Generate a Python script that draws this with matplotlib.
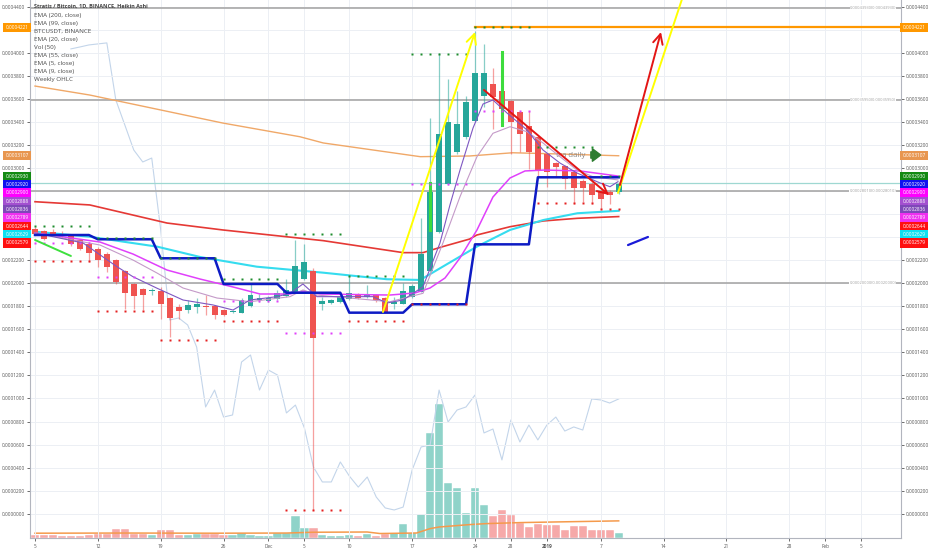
import numpy as np
import matplotlib
matplotlib.use("Agg")
import matplotlib.pyplot as plt
from matplotlib.ticker import FixedLocator, FuncFormatter

plt.rcParams['font.family'] = ['Open Sans', 'DejaVu Sans']

SAT = 1e-8  # values below are in satoshi

# x axis: day 0 = 2018-11-05
DAY_TICKS = [0, 7, 14, 21, 26, 30, 35, 42, 49, 53, 57, 63, 70, 77, 84, 88, 92]
DAY_LABELS = ['5', '12', '19', '26', 'Dec', '5', '10', '17', '24', '28', '2019',
              '7', '14', '21', '28', 'Feb', '5']

# Heikin Ashi candles (satoshi)
HA_OPEN = [24740, 24500, 24440, 24300, 24070, 23720, 23440, 23000, 22570, 21990,
           21070, 19970, 19510, 19330, 19330, 18730, 17950, 17720, 17900, 18070,
           18010, 17660, 17490, 17460, 18010, 18530, 18470, 18620, 18870, 19250,
           20410, 21070, 18160, 18290, 18380, 18640, 18960, 18810, 18960, 18760,
           18160, 18240, 18810, 19250, 21040, 24440, 28630, 31370, 32670, 34110,
           36280, 37290, 36710, 35780, 34890, 33680, 32670, 31230, 30420, 30220,
           29640, 28920, 28630, 28050, 27900, 27900]
HA_HIGH = [24850, 24590, 24680, 24500, 24240, 23810, 23550, 23120, 22680, 22080,
           21130, 20000, 19570, 19630, 19680, 18790, 18240, 18530, 18680, 19020,
           18100, 17750, 17660, 18760, 19910, 19050, 18870, 19390, 20350, 23780,
           23380, 21300, 18810, 18620, 18960, 20690, 19130, 19830, 19050, 18830,
           18810, 20000, 19910, 25710, 34370, 40000, 37750, 36710, 36280, 41910,
           40750, 38730, 37140, 35930, 34980, 34980, 32810, 31340, 30560, 30300,
           29780, 29090, 28750, 28140, 28140, 28830]
HA_LOW = [24160, 23720, 24070, 23900, 23200, 22860, 21840, 21410, 20980, 19970,
          17810, 17810, 17660, 18960, 16940, 15350, 16940, 17380, 17380, 17230,
          16940, 17140, 17400, 17400, 17920, 18380, 18360, 18530, 18790, 19180,
          20260, 350, 17660, 18180, 18270, 18570, 18660, 18750, 18380, 17400,
          17810, 18180, 18750, 19220, 20950, 24330, 28490, 31260, 32550, 34030,
          35260, 33420, 34110, 31230, 31370, 29930, 29200, 28340, 29200, 28200,
          26900, 27040, 26900, 26470, 26900, 27790]
HA_CLOSE = [24300, 23870, 24240, 24070, 23380, 23000, 22620, 22050, 21410, 20110,
            19160, 18870, 19020, 19460, 18180, 17030, 17600, 18100, 18160, 17900,
            17290, 17230, 17580, 18590, 19020, 18680, 18760, 19160, 19460, 21470,
            21840, 15210, 18470, 18530, 18810, 19160, 18760, 19020, 18530, 17520,
            18380, 19310, 19770, 22570, 27910, 32960, 33970, 33830, 35700, 38290,
            38290, 36130, 35130, 33970, 32960, 31370, 29780, 29640, 30130, 29070,
            28290, 28290, 27680, 27330, 27620, 28630]

# Volume (thousands) and direction
VOLUME_K = [425, 375, 375, 310, 250, 275, 375, 540, 440, 1090,
            1090, 540, 540, 340, 960, 960, 410, 410, 540, 540,
            540, 410, 340, 660, 410, 290, 290, 660, 660, 2710,
            1250, 1250, 410, 250, 210, 410, 250, 460, 250, 540,
            625, 1710, 625, 3040, 13125, 16710, 6910, 6250, 3160, 6290,
            4090, 2710, 3460, 2840, 1875, 1375, 1710, 1660, 1590, 960,
            1460, 1460, 960, 1040, 1040, 619]
VOL_DIR = "ddddddddddddduddduuddduuuuuuuuuduuuududduuuuuuuuuuudddddddddddddduu"
VOLMA_DAYS = [0, 10, 20, 28, 31, 37, 38.4, 42.5, 44, 45, 48.4, 50.3, 54, 57.7, 65]
VOLMA_K = [600, 620, 600, 620, 720, 750, 560, 625, 1175, 1375, 1675, 1800, 1925, 2000, 2140]

# BTCUSDT overlay (USD), from day 4
BTC_START = 4
BTC_USD = [6361, 6374, 6388, 6395, 6402, 6011, 5840, 5668, 5586, 5613,
           5120, 4503, 4517, 4469, 4318, 3907, 4023, 3838, 3852, 4215,
           4263, 4023, 4160, 4126, 3866, 3920, 3763, 3496, 3393, 3393,
           3530, 3434, 3358, 3427, 3290, 3215, 3201, 3221, 3475, 3633,
           3646, 4023, 3804, 3886, 3907, 3989, 3729, 3756, 3544, 3818,
           3667, 3783, 3681, 3783, 3838, 3742, 3770, 3749, 3962, 3955,
           3934, 3962]

# EMA lines (day, satoshi)
EMA200_D = [0, 6.1, 20.9, 29.5, 32.1, 42.9, 48.4, 53.2, 58.5, 65]
EMA200_V = [37120, 36340, 33910, 32720, 32180, 30990, 31050, 31330, 31220, 31070]
EMA99_D = [0, 6.1, 14.7, 20.9, 32.1, 41.0, 43.2, 45.4, 48.4, 49.2, 52.9, 56.6, 60.4, 65]
EMA99_V = [27080, 26800, 25230, 24630, 23700, 22660, 22660, 23180, 23840, 24190,
           24910, 25410, 25640, 25790]
EMA55_D = [0, 6.1, 13.6, 18.4, 24.7, 32.1, 39.2, 42.9, 45.4, 49.2, 52.9, 56.6, 60.4, 65]
EMA55_V = [24480, 24040, 23180, 22280, 21440, 20920, 20350, 20290, 21440, 23180,
           24630, 25490, 26080, 26290]
EMA20_D = [0, 7.24, 10.91, 14.70, 18.37, 22.05, 25.06, 28.40, 29.84, 31.74, 39.53,
           42.32, 43.99, 45.66, 47.33, 49.22, 51.00, 52.90, 54.57, 56.79, 60.69, 64.92]
EMA20_V = [24370, 23580, 22540, 21150, 20370, 19680, 19070, 19070, 19330, 19070, 18980,
           19160, 19590, 20460, 22200, 24630, 27490, 29140, 29750, 29830, 29750, 29310]
EMA5_D = [0, 5.35, 9.13, 10.91, 13.59, 16.48, 19.82, 22.05, 23.94, 26.95, 28.40, 29.84,
          31.40, 37.64, 39.20, 40.98, 43.21, 45.10, 46.21, 47.33, 48.78, 49.89, 51.00,
          52.56, 54.79, 56.57, 58.46, 60.36, 62.92, 64.03, 64.92]
EMA5_V = [24370, 23500, 21440, 20570, 19570, 18550, 18120, 17680, 18550, 18840, 19130,
          19940, 18840, 18840, 18290, 18550, 19700, 23500, 26800, 29830, 33480, 35560,
          35910, 34780, 33310, 31570, 30440, 29570, 28710, 28380, 28820]
EMA9_D = [0, 7.24, 10.91, 13.59, 16.48, 20.27, 23.94, 28.40, 29.84, 31.40, 39.53, 43.21,
          45.43, 47.33, 49.22, 51.00, 52.90, 54.79, 56.57, 58.46, 60.36, 62.14, 64.92]
EMA9_V = [24370, 23320, 22020, 20890, 19590, 18720, 18400, 18840, 19420, 18980, 18400,
          19130, 23500, 27520, 30990, 33020, 33590, 33160, 32180, 30990, 29830, 29250, 28970]

# Weekly OHLC step line (satoshi)
WEEK_START = [0, 7, 14, 21, 28, 35, 42, 49, 56]
WEEK_LEVEL = [24190, 23820, 22170, 19940, 19180, 17450, 18180, 23380, 29200]

# Weekly pivot dots
DOT_START = [0, 7, 14, 21, 28, 35, 42, 49, 56, 63]
GREEN_DOTS = [25000, 23900, 22170, 20370, 24250, 20630, 39880, 42250, 31800, 29340]
RED_DOTS = [21930, 17620, 15080, 16750, 320, 16730, 18180, np.nan, 26940, 26420]
PINK_DOTS = [23470, 20520, np.nan, 18460, 15660, np.nan, 28590, 34950, np.nan, np.nan]

# Horizontal levels
GRAY_LEVELS = [43930, 35950, 28010, 20000]
GRAY_TEXT = ['0.00043930(0.00043930)', '0.00035950(0.00035950)',
             '0.00028010(0.00028010)', '0.00020000(0.00020000)']
TEAL_LEVEL = 28680
ORANGE_LEVEL = 42210
ORANGE_FROM = 49

# Drawings ((day, sat), (day, sat))
YELLOW_ARROW = ((38.75, 17510), (49.0, 41810))
YELLOW_LINE = ((64.92, 27840), (72.94, 46760))
RED_UP = ((65.14, 28530), (69.71, 41810))
RED_DOWN = ((50.0, 36780), (63.92, 27660))
GREEN_LINE = ((0, 23760), (4.0, 22370))
BLUE_LINE = ((66.04, 23320), (68.26, 24020))
LIME_BARS = [(44, 24630, 28700), (52, 33740, 40100)]
NOTE_POS = (58.0, 31135)

PRICE_LABELS = ['0.0002930', '0.0002920', '0.0002900', '0.0002888', '0.0002836',
                '0.0002789', '0.0002644', '0.0002629', '0.0002579']
PRICE_COLORS = ['#138a13', '#1010f0', '#ff00ff', '#a34fd0', '#7e48b8',
                '#f030f0', '#ff1010', '#10e0f0', '#ff1010']

LEGEND = ['EMA (200, close)', 'EMA (99, close)', 'BTCUSDT, BINANCE', 'EMA (20, close)',
          'Vol (50)', 'EMA (55, close)', 'EMA (5, close)', 'EMA (9, close)', 'Weekly OHLC']

# ---------------------------------------------------------------
fig = plt.figure(figsize=(9.32, 5.5), dpi=100, facecolor='white')
ax = fig.add_axes([30 / 932, 12 / 550, 871 / 932, 538 / 550])
vax = ax.twinx()
bax = ax.twinx()
ax.set_zorder(3)
ax.patch.set_visible(False)
vax.set_zorder(1)
bax.set_zorder(2)

XMIN, XMAX = -0.557, 96.44
ax.set_xlim(XMIN, XMAX)
ax.set_ylim(-2109 * SAT, 44589 * SAT)
vax.set_ylim(0, 67.25e6)
bax.set_ylim(3009, 6696)
for a in (vax, bax):
    a.yaxis.set_visible(False)
    for s in a.spines.values():
        s.set_visible(False)

# grid & spines
ax.yaxis.set_major_locator(FixedLocator(np.arange(0, 23) * 2e-5))

def yfmt(v, pos):
    k = int(round(v / 2e-5))
    if k in (12, 13, 14, 21):
        return ''
    return f'{abs(v):.7f}'

ax.yaxis.set_major_formatter(FuncFormatter(yfmt))
ax.set_xticks(DAY_TICKS)
ax.set_xticklabels(DAY_LABELS)
for t in ax.get_xticklabels():
    if t.get_text() == '2019':
        t.set_fontweight('bold')
ax.grid(True, color='#eceff4', lw=0.7, zorder=0)
ax.set_axisbelow(True)
ax.tick_params(axis='y', which='both', left=True, right=True, labelleft=True,
               labelright=True, labelsize=3.4, colors='#555555', length=2, pad=1.5,
               width=0.6)
ax.tick_params(axis='x', labelsize=3.4, colors='#555555', length=2, pad=2, width=0.6)
for side in ('left', 'right', 'bottom'):
    ax.spines[side].set_color('#b2b5be')
    ax.spines[side].set_linewidth(0.8)
ax.spines['top'].set_visible(False)

# horizontal levels
for lv, txt in zip(GRAY_LEVELS, GRAY_TEXT):
    ax.axhline(lv * SAT, color='#a8a8a8', lw=1.2, zorder=1)
    ax.text(95.9, lv * SAT, txt, ha='right', va='center', fontsize=2.9, color='#a0a0a0',
            zorder=2, bbox=dict(boxstyle='square,pad=0.05', fc='white', ec='none'))
ax.axhline(TEAL_LEVEL * SAT, color='#9fd8d2', lw=0.9, zorder=1)
ax.plot([ORANGE_FROM, XMAX], [ORANGE_LEVEL * SAT] * 2, color='#ff9800', lw=1.6, zorder=2)

# volume
days = np.arange(len(HA_OPEN))
vcol = ['#8fd3c9' if ch == 'u' else '#f6a9a9' for ch in VOL_DIR]
vax.bar(days, np.array(VOLUME_K) * 1e3, width=0.92, color=vcol, edgecolor='white',
        linewidth=0.3, zorder=2)
vax.plot(VOLMA_DAYS, np.array(VOLMA_K) * 1e3, color='#f59a4c', lw=1.1, zorder=3)

# BTCUSDT overlay
bax.plot(np.arange(BTC_START, BTC_START + len(BTC_USD)), BTC_USD, color='#c3d5ea',
         lw=0.8, zorder=2)

# EMAs
ax.plot(EMA200_D, np.array(EMA200_V) * SAT, color='#f0a868', lw=1.0, zorder=3)
ax.plot(EMA99_D, np.array(EMA99_V) * SAT, color='#e53935', lw=1.2, zorder=3)
ax.plot(EMA55_D, np.array(EMA55_V) * SAT, color='#35dcef', lw=1.5, zorder=3)

# candles
o = np.array(HA_OPEN) * SAT
c = np.array(HA_CLOSE) * SAT
h = np.array(HA_HIGH) * SAT
l = np.array(HA_LOW) * SAT
up = c >= o
col = np.where(up, '#26a69a', '#ef5350')
ax.vlines(days, l, h, colors=col, lw=0.9, alpha=0.55, zorder=4)
ax.bar(days, np.maximum(np.abs(c - o), 60 * SAT), bottom=np.minimum(o, c), width=0.66,
       color=col, linewidth=0, zorder=5)
for dd, lo_, hi_ in LIME_BARS:
    ax.plot([dd, dd], [lo_ * SAT, hi_ * SAT], color='#3ddc3d', lw=2.2, zorder=6)

ax.plot(EMA20_D, np.array(EMA20_V) * SAT, color='#e040fb', lw=1.1, zorder=6)
ax.plot(EMA9_D, np.array(EMA9_V) * SAT, color='#c49ac8', lw=0.8, zorder=6)
ax.plot(EMA5_D, np.array(EMA5_V) * SAT, color='#7e57c2', lw=0.8, zorder=6)

# weekly step line
sx, sy = [], []
for i, (s, lv) in enumerate(zip(WEEK_START, WEEK_LEVEL)):
    e = WEEK_START[i + 1] - 1 if i + 1 < len(WEEK_START) else len(HA_OPEN) - 1
    sx += [s, e]
    sy += [lv * SAT, lv * SAT]
ax.plot(sx, sy, color='#0d1bc4', lw=1.8, zorder=7)

# dots
for vals, colr in ((GREEN_DOTS, '#1e8c2e'), (RED_DOTS, '#e52020'), (PINK_DOTS, '#e040fb')):
    for i, (s, v) in enumerate(zip(DOT_START, vals)):
        if np.isnan(v):
            continue
        e = DOT_START[i + 1] if i + 1 < len(DOT_START) else len(HA_OPEN)
        xs = np.arange(s, e)
        ax.plot(xs, np.full(len(xs), v * SAT), ls='none', marker='s', ms=1.6, color=colr,
                mec='none', zorder=8)

# drawings
def seg(p, color, lw=1.4, arrow=False):
    (x0, y0), (x1, y1) = p
    if arrow:
        ax.annotate('', xy=(x1, y1 * SAT), xytext=(x0, y0 * SAT),
                    arrowprops=dict(arrowstyle='->,head_length=0.7,head_width=0.35',
                                    color=color, lw=lw, shrinkA=0, shrinkB=0), zorder=9)
    else:
        ax.plot([x0, x1], [y0 * SAT, y1 * SAT], color=color, lw=lw, zorder=9,
                solid_capstyle='round')

seg(YELLOW_ARROW, '#ffff00', arrow=True)
seg(YELLOW_LINE, '#ffff00')
seg(RED_UP, '#e31515', arrow=True)
seg(RED_DOWN, '#e31515', arrow=True)
seg(GREEN_LINE, '#3ee03e')
seg(BLUE_LINE, '#1a1ad8', lw=1.6)

ax.text(NOTE_POS[0], NOTE_POS[1] * SAT, 'tra daily', fontsize=5.6, color='#8a8a8a',
        ha='left', va='center', zorder=3)
ax.annotate('', xy=(NOTE_POS[0] + 5.0, NOTE_POS[1] * SAT),
            xytext=(NOTE_POS[0] + 3.9, NOTE_POS[1] * SAT),
            arrowprops=dict(arrowstyle='simple,head_length=0.6,head_width=0.9,tail_width=0.45',
                            color='#2e7d32', shrinkA=0, shrinkB=0), zorder=9)

# price label boxes
def pbox(a, side, val, text, color, k=0, tcolor='white'):
    x = 1.0 if side == 'r' else 0.0
    off = 1.5 if side == 'r' else -1.5
    a.annotate(text, xy=(x, val), xycoords=('axes fraction', 'data'),
               xytext=(off, -k * 8.35), textcoords='offset pixels',
               ha='left' if side == 'r' else 'right', va='center', fontsize=3.4,
               color=tcolor, annotation_clip=False, zorder=20,
               bbox=dict(boxstyle='square,pad=0.45', fc=color, ec='none'))

for side in ('l', 'r'):
    pbox(ax, side, 0.0004221, '0.0004221', '#ff9800')
    pbox(ax, side, 0.0003107, '0.0003107', '#e8964f')
    for k, (t, cc) in enumerate(zip(PRICE_LABELS, PRICE_COLORS)):
        pbox(ax, side, float(PRICE_LABELS[0]), t, cc, k=k)
    pbox(ax, side, 2.14e6, '2.14M', '#f59a4c')
    pbox(ax, side, 618.901e3, '618.901K', '#26a69a')

# legend text
fig.text(34 / 932, 1 - 6.5 / 550, 'Stratis / Bitcoin, 1D, BINANCE, Heikin Ashi',
         fontsize=4.0, color='#444444', fontweight='bold', va='center', ha='left')
for i, t in enumerate(LEGEND):
    fig.text(34 / 932, 1 - (15 + 8.0 * i) / 550, t, fontsize=4.5, color='#4a4a4a',
             va='center', ha='left')

fig.savefig('out.png', dpi=100, facecolor='white')
